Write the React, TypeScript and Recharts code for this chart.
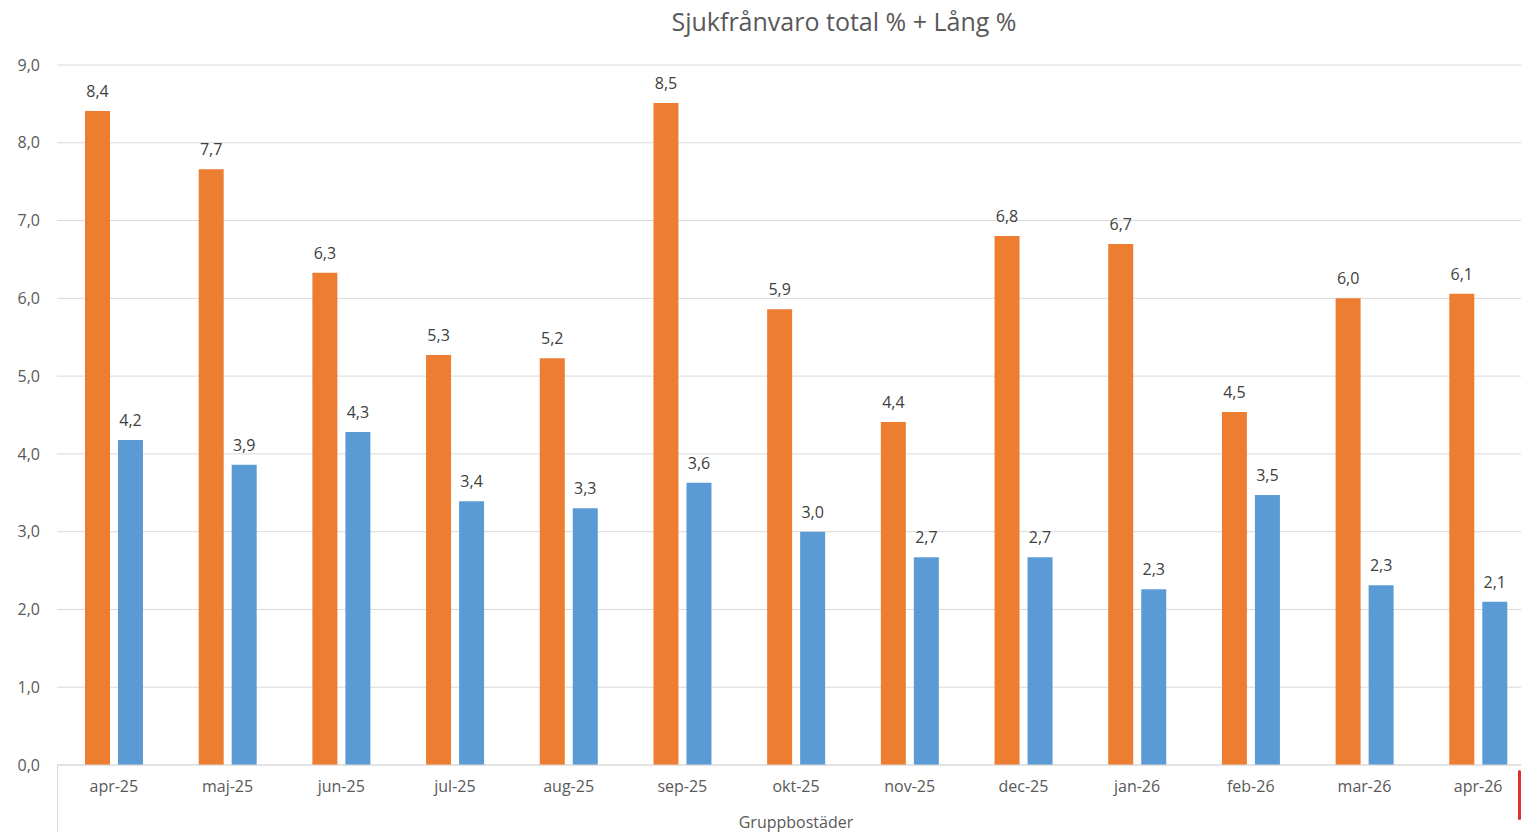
import React from 'react';
import { BarChart, Bar, XAxis, YAxis, CartesianGrid, LabelList } from 'recharts';

const categories = ['apr-25', 'maj-25', 'jun-25', 'jul-25', 'aug-25', 'sep-25', 'okt-25', 'nov-25', 'dec-25', 'jan-26', 'feb-26', 'mar-26', 'apr-26'];
const totalValues = [8.41, 7.66, 6.33, 5.27, 5.23, 8.51, 5.86, 4.41, 6.8, 6.7, 4.54, 6.0, 6.06];
const longValues = [4.18, 3.86, 4.28, 3.39, 3.3, 3.63, 3.0, 2.67, 2.67, 2.26, 3.47, 2.31, 2.1];
const yTicks = [0, 1, 2, 3, 4, 5, 6, 7, 8, 9];
const title = 'Sjukfrånvaro total % + Lång %';
const groupLabel = 'Gruppbostäder';

const data = categories.map((c, i) => ({ name: c, total: totalValues[i], lang: longValues[i] }));

const fmt = (v: any) => Number(v).toFixed(1).replace('.', ',');
const FONT = '"Open Sans", "Noto Sans", sans-serif';

export default function App() {
  return (
    <div style={{ position: 'fixed', left: 0, top: 0, width: 1521, height: 832, overflow: 'hidden', background: '#fff', fontFamily: FONT }}>
      <div style={{ position: 'absolute', left: 544, width: 600, top: 4, textAlign: 'center', fontSize: 25, lineHeight: '34px', color: '#595959' }}>{title}</div>
      <div style={{ position: 'absolute', left: 57, top: 765, width: 1, height: 67, background: '#d9d9d9' }} />
      <div style={{ position: 'absolute', left: 1518, top: 770, width: 3, height: 50, background: '#e03030', borderRadius: 2 }} />
      <div style={{ position: 'absolute', left: 0, top: 0 }}>
        <BarChart width={1536} height={832} data={data} margin={{ top: 65, right: 1, bottom: 0, left: 0 }} barCategoryGap={28} barGap={8}>
          <CartesianGrid vertical={false} stroke="#d9d9d9" />
          <XAxis dataKey="name" height={67} tickLine={false} tickSize={0} tickMargin={16} axisLine={{ stroke: '#d9d9d9' }}
            tick={{ fill: '#595959', fontSize: 16, fontFamily: FONT }}
            label={{ value: groupLabel, position: 'insideBottom', offset: 4, fill: '#595959', fontSize: 16, fontFamily: FONT }} />
          <YAxis width={57} domain={[0, 9]} ticks={yTicks} interval={0} axisLine={false} tickLine={false} tickSize={0} tickMargin={17}
            tickFormatter={fmt} tick={{ fill: '#595959', fontSize: 16, fontFamily: FONT }} />
          <Bar dataKey="total" fill="#ED7D31" isAnimationActive={false}>
            <LabelList dataKey="total" position="top" offset={14} formatter={fmt} fill="#404040" fontSize={16} fontFamily={FONT} />
          </Bar>
          <Bar dataKey="lang" fill="#5B9BD5" isAnimationActive={false}>
            <LabelList dataKey="lang" position="top" offset={14} formatter={fmt} fill="#404040" fontSize={16} fontFamily={FONT} />
          </Bar>
        </BarChart>
      </div>
    </div>
  );
}
